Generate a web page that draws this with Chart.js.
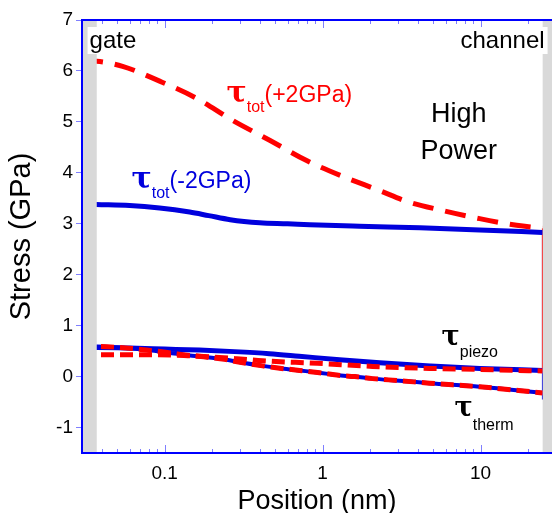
<!DOCTYPE html>
<html><head><meta charset="utf-8">
<script src="https://cdn.jsdelivr.net/npm/chart.js@4.4.1/dist/chart.umd.min.js"></script>
<style>html,body{margin:0;padding:0;background:#fff;}canvas{display:block;}</style>
</head><body>
<canvas id="c" width="552" height="513"></canvas>
<script>
// ---- data ----
const totPlusX  = [0.03, 0.0372, 0.0542, 0.093, 0.160, 0.269, 0.462, 0.792, 1.34, 2.30, 3.40, 5.74, 9.86, 16.9, 24.7];
const totPlusY  = [6.20, 6.19,   6.09,   5.80,  5.46,  5.03,  4.64,  4.24,  3.93, 3.65, 3.44, 3.26, 3.10, 2.97, 2.91];
const totMinusX = [0.03, 0.037, 0.060, 0.093, 0.144, 0.19, 0.26, 0.40, 0.60, 0.83, 1.71, 4.13, 9.86, 24.7];
const totMinusY = [3.39, 3.38,  3.36,  3.31,  3.23,  3.16, 3.08, 3.02, 3.00, 2.98, 2.95, 2.92, 2.88, 2.83];
const piezoMinusX = [0.03, 0.037, 0.060, 0.10, 0.166, 0.277, 0.46, 0.71, 1.28, 2.3, 4.8, 9.9, 24.7];
const piezoMinusY = [0.57, 0.57,  0.56,  0.54, 0.52,  0.49,  0.45, 0.40, 0.33, 0.27, 0.21, 0.16, 0.12];
const piezoPlusX  = [0.03, 0.0626, 0.0828, 0.14, 0.187, 0.286, 0.417, 0.929, 2.07, 4.75, 9.86, 24.7];
const piezoPlusY  = [0.43, 0.43,   0.43,   0.41, 0.39,  0.35,  0.31,  0.26,  0.20, 0.16, 0.14, 0.11];
const thermX = [0.03, 0.0377, 0.0626, 0.0828, 0.111, 0.14, 0.187, 0.24, 0.30, 0.417, 0.55, 0.715, 0.929, 1.23, 1.60, 2.07, 3.07, 4.75, 9.86, 24.7];
const thermY = [0.59, 0.59,   0.55,   0.51,   0.46,  0.42, 0.38,  0.34, 0.28, 0.21,  0.16, 0.12,  0.08,  0.03, 0.00, -0.04, -0.08, -0.13, -0.20, -0.32];
const dropPlusX  = [24.7, 24.7];
const dropPlusY  = [2.91, 0.11];
const dropMinusX = [24.7, 24.7];
const dropMinusY = [2.83, -0.45];
const gateBand    = [0.03, 0.0372];
const channelBand = [24.7, 28.3];
const xLabelTicks = [0.1, 1, 10];
const xMinorTicks = [0.04, 0.05, 0.06, 0.07, 0.08, 0.09, 0.2, 0.3, 0.4, 0.5, 0.6, 0.7, 0.8, 0.9, 2, 3, 4, 5, 6, 7, 8, 9, 20];
const yTicks = [-1, 0, 1, 2, 3, 4, 5, 6, 7];

const FONT = '"Liberation Sans", Arial, Helvetica, sans-serif';
const TAU = '"DejaVu Serif", "Liberation Serif", serif';
const RED = '#ff0000', BLUE = '#0000dd', AXIS = '#0000ff', TICK = '#7f7fff';
const pts = (xs, ys) => xs.map((x, i) => ({x: x, y: ys[i]}));

const bandsPlugin = {
  id: 'bands',
  afterDatasetsDraw(chart) {
    const {ctx, chartArea: a, scales: {x}} = chart;
    ctx.save();
    ctx.fillStyle = '#d9d9d9';
    [gateBand, channelBand].forEach(b => {
      const x1 = x.getPixelForValue(b[0]), x2 = x.getPixelForValue(b[1]);
      ctx.fillRect(x1, a.top, x2 - x1, a.bottom - a.top);
    });
    ctx.restore();
  }
};

const framePlugin = {
  id: 'frame',
  afterDraw(chart) {
    const {ctx, chartArea: a, scales: {x}} = chart;
    ctx.save();
    ctx.strokeStyle = TICK; ctx.lineWidth = 1;
    const tick = (v, len) => {
      const px = Math.round(x.getPixelForValue(v)) + 0.5;
      ctx.beginPath();
      ctx.moveTo(px, a.bottom); ctx.lineTo(px, a.bottom - len);
      ctx.moveTo(px, a.top); ctx.lineTo(px, a.top + len);
      ctx.stroke();
    };
    xMinorTicks.forEach(v => tick(v, 4));
    xLabelTicks.forEach(v => tick(v, 8));
    ctx.strokeStyle = AXIS; ctx.lineWidth = 2;
    ctx.beginPath();
    ctx.moveTo(a.left, a.top); ctx.lineTo(a.right, a.top);
    ctx.moveTo(a.left, a.top); ctx.lineTo(a.left, a.bottom);
    ctx.moveTo(a.left, a.bottom); ctx.lineTo(a.right, a.bottom);
    ctx.stroke();
    ctx.restore();
  }
};

function tauLabel(ctx, px, py, color, tauSize, sub, subSize, subDrop, rest, restSize) {
  ctx.fillStyle = color;
  ctx.textBaseline = 'alphabetic';
  ctx.textAlign = 'left';
  ctx.font = 'bold ' + tauSize + 'px ' + TAU;
  ctx.fillText('τ', px, py);
  let cx = px + ctx.measureText('τ').width;
  ctx.font = subSize + 'px ' + FONT;
  ctx.fillText(sub, cx, py + subDrop);
  cx += ctx.measureText(sub).width;
  if (rest) {
    ctx.font = restSize + 'px ' + FONT;
    ctx.fillText(rest, cx, py);
  }
}

const labelsPlugin = {
  id: 'labels',
  afterDraw(chart) {
    const {ctx, scales: {x, y}} = chart;
    const P = (vx, vy) => [x.getPixelForValue(vx), y.getPixelForValue(vy)];
    ctx.save();
    ctx.font = '24px ' + FONT;
    ctx.textBaseline = 'alphabetic';
    let [gx, gy] = P(0.0335, 6.45);
    let w = ctx.measureText('gate').width;
    ctx.fillStyle = '#fff'; ctx.fillRect(gx - 2, gy - 21, w + 3, 27);
    ctx.fillStyle = '#000'; ctx.textAlign = 'left'; ctx.fillText('gate', gx, gy);
    let [cx, cy] = P(25.4, 6.45);
    w = ctx.measureText('channel').width;
    ctx.fillStyle = '#fff'; ctx.fillRect(cx - w - 2, cy - 21, w + 5, 27);
    ctx.fillStyle = '#000'; ctx.textAlign = 'right'; ctx.fillText('channel', cx, cy);
    ctx.font = '27px ' + FONT; ctx.textAlign = 'center';
    let [hx, hy] = P(7.26, 5.0);
    ctx.fillText('High', hx, hy);
    let [qx, qy] = P(7.26, 4.27);
    ctx.fillText('Power', qx, qy);
    let p = P(0.2466, 5.39);
    tauLabel(ctx, p[0], p[1], RED, 30, 'tot', 16, 10, '(+2GPa)', 23);
    p = P(0.0618, 3.70);
    tauLabel(ctx, p[0], p[1], BLUE, 30, 'tot', 16, 10, '(-2GPa)', 23);
    p = P(5.66, 0.62);
    tauLabel(ctx, p[0], p[1], '#000', 27, 'piezo', 16, 12, null, 0);
    p = P(6.84, -0.77);
    tauLabel(ctx, p[0], p[1], '#000', 27, 'therm', 16, 14, null, 0);
    ctx.restore();
  }
};

const line = (label, xs, ys, color, width, dash, order) => ({
  label: label, data: pts(xs, ys), borderColor: color, backgroundColor: color,
  borderWidth: width, borderDash: dash, order: order, pointRadius: 0, fill: false,
  tension: 0.4, cubicInterpolationMode: 'monotone', borderCapStyle: 'butt'
});

new Chart(document.getElementById('c'), {
  type: 'line',
  data: {
    datasets: [
      line('τtot(+2GPa)', totPlusX, totPlusY, RED, 5, [21, 12], 0),
      line('τtot(-2GPa)', totMinusX, totMinusY, BLUE, 5, [], 1),
      line('τtherm(+2GPa)', thermX, thermY, RED, 5, [13, 6], 2),
      line('τpiezo(+2GPa)', piezoPlusX, piezoPlusY, RED, 5, [13, 6], 3),
      line('τpiezo(-2GPa)', piezoMinusX, piezoMinusY, BLUE, 5, [], 4),
      line('τtherm(-2GPa)', thermX, thermY, BLUE, 4, [], 5),
      Object.assign(line('drop +2', dropPlusX, dropPlusY, RED, 1.5, [], 6), {tension: 0}),
      Object.assign(line('drop -2', dropMinusX, dropMinusY, BLUE, 1.5, [], 7), {tension: 0})
    ]
  },
  options: {
    responsive: false, animation: false,
    layout: {padding: {top: 20, right: 0, left: 0, bottom: 0}},
    plugins: {legend: {display: false}, tooltip: {enabled: false}},
    scales: {
      x: {
        type: 'logarithmic', min: 0.03, max: 28.3, position: 'bottom',
        afterBuildTicks: s => { s.ticks = xLabelTicks.map(v => ({value: v})); },
        afterFit: s => { s.height = 60; },
        ticks: {callback: v => String(v), font: {family: FONT, size: 19}, color: '#000',
                padding: 9, maxRotation: 0, autoSkip: false},
        grid: {drawOnChartArea: false, drawTicks: false},
        border: {color: AXIS, width: 2},
        title: {display: true, text: 'Position (nm)', color: '#000',
                font: {family: FONT, size: 27, lineHeight: 0.85}, padding: {top: 0, bottom: 0}}
      },
      y: {
        min: -1.5, max: 7,
        afterBuildTicks: s => { s.ticks = yTicks.map(v => ({value: v})); },
        afterFit: s => { s.width = 82; },
        ticks: {callback: v => String(v), font: {family: FONT, size: 19}, color: '#000', padding: 3},
        grid: {drawOnChartArea: false, drawTicks: true, tickLength: 6, color: TICK, tickColor: TICK},
        border: {color: AXIS, width: 2},
        title: {display: true, text: 'Stress (GPa)', color: '#000',
                font: {family: FONT, size: 29, lineHeight: 1.2}, padding: {top: 5, bottom: 0}}
      }
    }
  },
  plugins: [bandsPlugin, framePlugin, labelsPlugin]
});
</script>
</body></html>
